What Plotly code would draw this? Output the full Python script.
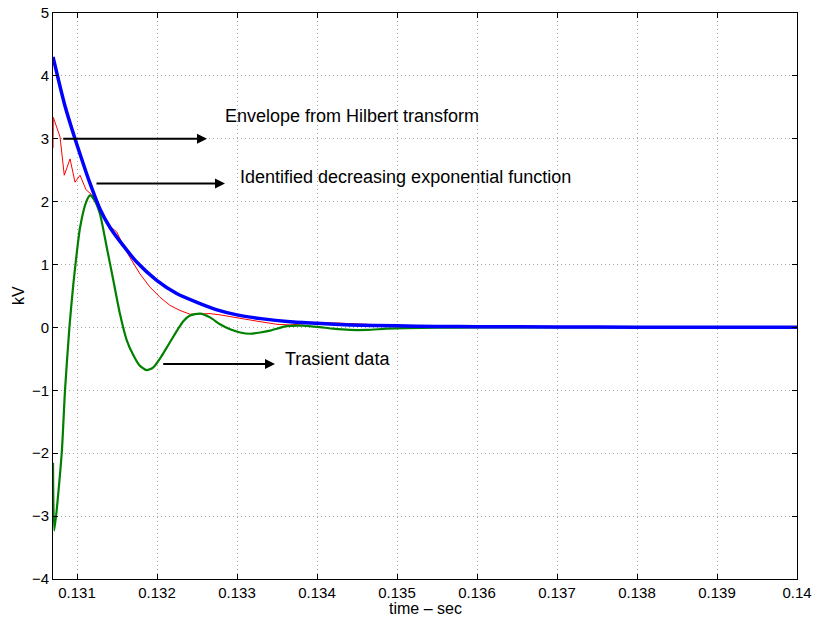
import plotly.graph_objects as go

# ---- data ----
blue_t = [0.130700, 0.130775, 0.130850, 0.130975, 0.131100, 0.131163, 0.131288, 0.131413,
          0.131579, 0.131746, 0.131996, 0.132246, 0.132538, 0.132750, 0.133000, 0.133300,
          0.133663, 0.134000, 0.134420, 0.135000, 0.135500, 0.136000, 0.137000, 0.138000,
          0.139000, 0.140000]
blue_v = [4.30, 3.90, 3.52, 3.00, 2.52, 2.29, 1.88, 1.59,
          1.30, 1.04, 0.75, 0.54, 0.38, 0.28, 0.20, 0.14,
          0.09, 0.065, 0.04, 0.025, 0.017, 0.012, 0.007, 0.004,
          0.003, 0.002]

red_t = [0.130700, 0.130704, 0.130788, 0.130841, 0.130913, 0.130975, 0.131038, 0.131113,
         0.131184, 0.131225, 0.131300, 0.131400, 0.131496, 0.131580, 0.131663, 0.131788,
         0.131913, 0.132038, 0.132163, 0.132288, 0.132413, 0.132538, 0.132663, 0.132788,
         0.133000, 0.133250, 0.133500, 0.133663, 0.133850, 0.134079, 0.134250, 0.134420,
         0.134621, 0.134871, 0.135200, 0.136000, 0.137000, 0.138000, 0.139000, 0.140000]
red_v = [2.85, 3.34, 3.03, 2.42, 2.68, 2.31, 2.42, 2.19,
         2.11, 2.05, 1.84, 1.62, 1.52, 1.30, 1.11, 0.85,
         0.64, 0.48, 0.35, 0.27, 0.21, 0.22, 0.22, 0.20,
         0.15, 0.10, 0.05, 0.04, 0.06, 0.075, 0.07, 0.065,
         0.05, 0.03, 0.02, 0.012, 0.007, 0.004, 0.003, 0.002]

green_t = [0.130700, 0.130716, 0.130809, 0.130850, 0.130905, 0.130955, 0.131004, 0.131038,
           0.131113, 0.131163, 0.131220, 0.131288, 0.131371, 0.131454, 0.131538, 0.131621,
           0.131700, 0.131780, 0.131870, 0.131950, 0.132050, 0.132141, 0.132250, 0.132329,
           0.132413, 0.132538, 0.132663, 0.132788, 0.132913, 0.133040, 0.133163, 0.133290,
           0.133413, 0.133621, 0.133800, 0.134000, 0.134200, 0.134413, 0.134620, 0.134871,
           0.135100, 0.135500, 0.136000, 0.137000, 0.138000, 0.139000, 0.140000]
green_v = [-2.15, -3.23, -2.00, -1.00, 0.00, 0.70, 1.26, 1.59,
           1.99, 2.10, 2.02, 1.80, 1.28, 0.75, 0.21, -0.20,
           -0.43, -0.60, -0.68, -0.64, -0.47, -0.28, -0.05, 0.10,
           0.19, 0.22, 0.16, 0.05, -0.03, -0.08, -0.10, -0.08,
           -0.05, 0.02, 0.03, 0.01, -0.02, -0.04, -0.04, -0.02,
           -0.01, -0.005, 0.0, 0.0, 0.0, 0.0, 0.0]

x_ticks = [0.131, 0.132, 0.133, 0.134, 0.135, 0.136, 0.137, 0.138, 0.139, 0.140]
x_tick_labels = ["0.131", "0.132", "0.133", "0.134", "0.135", "0.136", "0.137", "0.138", "0.139", "0.14"]
y_ticks = [-4, -3, -2, -1, 0, 1, 2, 3, 4, 5]
x_title = "time \u2013 sec"
y_title = "kV"

# annotations: text, text position, arrow tail / head x and arrow y
labels = ["Envelope from Hilbert transform", "Identified decreasing exponential function", "Trasient data"]
label_x = [0.132825, 0.133013, 0.133571]
label_y = [3.37, 2.40, -0.50]
arrow_tail_x = [0.130809, 0.131225, 0.132059]
arrow_head_x = [0.132625, 0.132850, 0.133475]
arrow_y = [3.00, 2.29, -0.58]

FONT = "Liberation Sans, Arial, Helvetica, sans-serif"

fig = go.Figure()
fig.add_trace(go.Scatter(x=red_t, y=red_v, mode="lines",
                         line=dict(color="#ff0000", width=1), showlegend=False))
fig.add_trace(go.Scatter(x=green_t, y=green_v, mode="lines",
                         line=dict(color="#008000", width=2.2, shape="spline", smoothing=0.6),
                         showlegend=False))
fig.add_trace(go.Scatter(x=blue_t, y=blue_v, mode="lines",
                         line=dict(color="#0000ff", width=3.5, shape="spline", smoothing=0.6),
                         showlegend=False))

for i in range(len(labels)):
    fig.add_annotation(x=arrow_head_x[i], y=arrow_y[i], ax=arrow_tail_x[i], ay=arrow_y[i],
                       xref="x", yref="y", axref="x", ayref="y", text="",
                       showarrow=True, arrowhead=2, arrowsize=1, arrowwidth=2, arrowcolor="black")
    fig.add_annotation(x=label_x[i], y=label_y[i], xref="x", yref="y", text=labels[i],
                       showarrow=False, xanchor="left", yanchor="middle",
                       font=dict(family=FONT, size=18, color="black"))

# axis titles as paper annotations for precise placement
fig.add_annotation(x=0.5, y=0, xref="paper", yref="paper", text=x_title, showarrow=False,
                   xanchor="center", yanchor="top", yshift=-19,
                   font=dict(family=FONT, size=16, color="black"))
fig.add_annotation(x=0, y=0.5, xref="paper", yref="paper", text=y_title, showarrow=False,
                   xanchor="center", yanchor="middle", xshift=-35, textangle=-90,
                   font=dict(family=FONT, size=16, color="black"))

axis_common = dict(showline=True, linecolor="black", linewidth=1, mirror="ticks",
                   ticks="inside", ticklen=5, tickcolor="black", tickwidth=1,
                   showgrid=True, gridcolor="#a8a8a8", griddash="1px,3px", gridwidth=1,
                   zeroline=False, automargin=False, ticklabeloverflow="allow",
                   tickfont=dict(family=FONT, size=15, color="black"))

fig.update_xaxes(range=[0.1307, 0.1400], tickvals=x_ticks, ticktext=x_tick_labels, **axis_common)
fig.update_yaxes(range=[-4, 5], tickvals=y_ticks, **axis_common)

fig.update_layout(width=815, height=617, margin=dict(l=53, r=18, t=13, b=38),
                  plot_bgcolor="white", paper_bgcolor="white",
                  font=dict(family=FONT))

# remove the default page margin so the figure sits at the top-left corner
fig.write_html("out.html", config={"displayModeBar": False},
               post_script="document.body.style.margin='0';document.body.style.overflow='hidden';")
